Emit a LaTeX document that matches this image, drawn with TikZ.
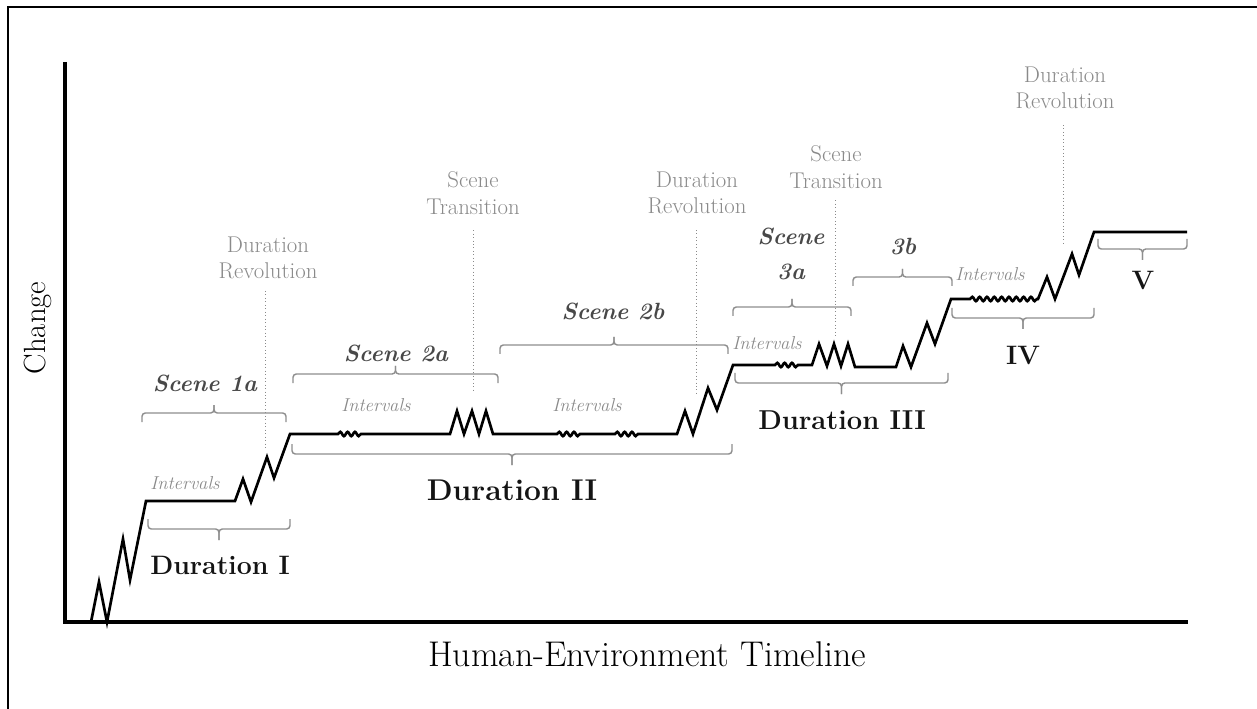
\documentclass[tikz,border=0pt]{standalone}
\usepackage{fontspec}
\setmainfont{Latin Modern Roman}
\usetikzlibrary{decorations.pathmorphing}
\definecolor{ink}{HTML}{141414}
\definecolor{bracegray}{HTML}{8E8E8E}
\definecolor{notegray}{HTML}{8A8A8A}
\definecolor{scenegray}{HTML}{484848}
\tikzset{
  frame line/.style={line width=1.6pt,draw=black},
  axis line/.style={line width=2.3pt,draw=black},
  change curve/.style={line width=2pt,draw=black,line join=miter},
  brace line/.style={line width=1.1pt,draw=bracegray,rounded corners=2.5pt},
  marker line/.style={line width=0.6pt,draw=notegray,dotted},
  note label/.style={font=\fontsize{17.1}{20}\selectfont,text=notegray,align=center},
  interval label/.style={font=\fontsize{14}{16}\selectfont\itshape,text=notegray},
  scene label/.style={font=\fontsize{17.6}{26}\selectfont\bfseries\itshape,text=scenegray,align=center},
  duration label/.style={font=\fontsize{20}{24}\selectfont\bfseries,text=ink},
  axis label/.style={font=\fontsize{26.8}{30}\selectfont,text=black},
  wiggle/.style={decoration={snake,amplitude=1.6pt,segment length=5.5pt}},
}
% brace opening downwards, nub up: left x, right x, y
\newcommand{\scenebrace}[3]{%
  \draw[brace line] (#1,#3+9) |- ({(#1+#2)/2},#3) -- ({(#1+#2)/2},#3-8);
  \draw[brace line] (#2,#3+9) |- ({(#1+#2)/2},#3) -- ({(#1+#2)/2},#3-8);
}
% brace opening upwards, nub down: left x, right x, y
\newcommand{\durationbrace}[3]{%
  \draw[brace line] (#1,#3-10) |- ({(#1+#2)/2},#3) -- ({(#1+#2)/2},#3+11);
  \draw[brace line] (#2,#3-10) |- ({(#1+#2)/2},#3) -- ({(#1+#2)/2},#3+11);
}
\begin{document}
\begin{tikzpicture}[x=0.75pt,y=-0.75pt]
  \useasboundingbox (0,0) rectangle (1257,709);
  \draw[frame line] (8,7) rectangle (1280,730);

  % axes
  \coordinate (top) at (65,62);
  \coordinate (origin) at (65,622);
  \coordinate (right) at (1188,622);
  \draw[axis line] (top) -- (origin) -- (right);
  \node[axis label,rotate=90,font=\fontsize{23}{26}\selectfont] (change) at (38,328) {Change};
  \node[axis label] (timeline) at (647,654) {Human-Environment Timeline};

  % staircase of change
  \draw[change curve] (91,622) -- (99,582) -- (107,622) -- (123,539) -- (130,580) -- (146,501)
    -- (235,501) -- (243,479) -- (251,502) -- (267,457) -- (274,478) -- (290,434)
    -- (338,434) decorate[wiggle] {-- (362,434)} -- (450,434)
    -- (457,411) -- (464,434) -- (472,411) -- (479,434) -- (486,411) -- (493,434)
    -- (557,434) decorate[wiggle] {-- (580,434)} -- (615,434) decorate[wiggle] {-- (638,434)}
    -- (677,434) -- (685,411) -- (693,434) -- (708,388) -- (717,410) -- (733,365)
    -- (775,365) decorate[wiggle] {-- (800,365)} -- (812,365)
    -- (819,344) -- (827,366) -- (834,344) -- (841,366) -- (848,344) -- (855,367)
    -- (896,367) -- (903,346) -- (911,367) -- (927,323) -- (935,344) -- (951,299)
    -- (970,299) decorate[wiggle] {-- (1038,299)}
    -- (1047,277) -- (1055,299) -- (1072,254) -- (1079,275) -- (1094,232)
    -- (1187,232);

  % braces
  \scenebrace{142}{286}{413}
  \scenebrace{293}{498}{374}
  \scenebrace{500}{728}{345}
  \scenebrace{733}{851}{307}
  \scenebrace{853}{952}{277}
  \durationbrace{148}{290}{529}
  \durationbrace{292}{732}{454}
  \durationbrace{735}{948}{383}
  \durationbrace{952}{1094}{318}
  \durationbrace{1098}{1187}{249}

  % scene labels
  \node[scene label] (scene1a) at (205,383) {Scene 1a};
  \node[scene label] (scene2a) at (396,353) {Scene 2a};
  \node[scene label] (scene2b) at (613,311) {Scene 2b};
  \node[scene label] (scene3a) at (791,254) {Scene\\3a};
  \node[scene label] (scene3b) at (903,247) {3b};

  % duration labels
  \node[duration label] (dur1) at (220,565) {Duration I};
  \node[duration label,font=\fontsize{22.5}{26}\selectfont\bfseries] (dur2) at (512,490) {Duration II};
  \node[duration label,font=\fontsize{20.5}{24}\selectfont\bfseries] (dur3) at (842,420) {Duration III};
  \node[duration label] (dur4) at (1023,355) {IV};
  \node[duration label] (dur5) at (1143,280) {V};

  % intervals
  \node[interval label] (int1) at (185,483) {Intervals};
  \node[interval label] (int2) at (376,405) {Intervals};
  \node[interval label] (int3) at (587,405) {Intervals};
  \node[interval label] (int4) at (767,343) {Intervals};
  \node[interval label] (int5) at (990,274) {Intervals};

  % revolutions and transitions
  \node[note label] (rev1) at (268,258) {Duration\\Revolution};
  \node[note label] (trans1) at (473,193) {Scene\\Transition};
  \node[note label] (rev2) at (697,193) {Duration\\Revolution};
  \node[note label] (trans2) at (836,167) {Scene\\Transition};
  \node[note label] (rev3) at (1065,88) {Duration\\Revolution};
  \coordinate (rev1foot) at (265,450);
  \coordinate (trans1foot) at (473,393);
  \coordinate (rev2foot) at (696,393);
  \coordinate (trans2foot) at (835,337);
  \coordinate (rev3foot) at (1063,243);
  \draw[marker line] (rev1.south -| rev1foot) ++(0,7) -- (rev1foot);
  \draw[marker line] (trans1.south -| trans1foot) ++(0,11) -- (trans1foot);
  \draw[marker line] (rev2.south -| rev2foot) ++(0,11) -- (rev2foot);
  \draw[marker line] (trans2.south -| trans2foot) ++(0,7) -- (trans2foot);
  \draw[marker line] (rev3.south -| rev3foot) ++(0,11) -- (rev3foot);
\end{tikzpicture}
\end{document}
